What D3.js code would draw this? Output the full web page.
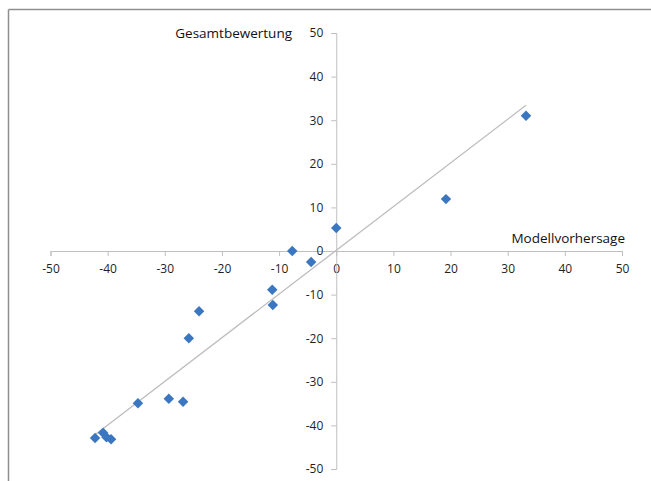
<!DOCTYPE html>
<meta charset="utf-8">
<style>
body { margin: 0; background: #fff; }
svg { display: block; }
.tick text { font: 12px "Open Sans", sans-serif; fill: #1f1f1f; }
.tick line, .domain { stroke: #bfbfbf; }
.axis-title { font: 13.5px "Open Sans", sans-serif; fill: #111; }
</style>
<svg width="651" height="481"></svg>
<script src="https://d3js.org/d3.v7.min.js"></script>
<script>
// Modellvorhersage (x) vs Gesamtbewertung (y)
var modell = [33.2, 19.2, 0, -4.4, -7.7, -11.2, -11.1, -24.0, -25.8, -34.7, -29.3, -26.8, -42.2, -40.8, -40.2, -39.4];
var gesamt = [31.0, 11.9, 5.3, -2.5, 0, -8.9, -12.4, -13.8, -20.0, -34.9, -33.9, -34.6, -42.9, -41.7, -42.7, -43.2];
var ticks = [-50, -40, -30, -20, -10, 0, 10, 20, 30, 40, 50];

var svg = d3.select("svg");

// outer frame (top and left edges only)
svg.append("line").attr("x1", 8.5).attr("x2", 651).attr("y1", 9.5).attr("y2", 9.5)
  .attr("stroke", "#8f8f8f").attr("stroke-width", 1.5);
svg.append("line").attr("x1", 8.5).attr("x2", 8.5).attr("y1", 9.5).attr("y2", 481)
  .attr("stroke", "#8f8f8f").attr("stroke-width", 1.5);

var x = d3.scaleLinear().domain([-50, 50]).range([50.5, 622]);
var y = d3.scaleLinear().domain([-50, 50]).range([469, 33]);

svg.append("g")
  .attr("transform", "translate(0," + y(0) + ")")
  .call(d3.axisBottom(x).tickValues(ticks).tickSize(5).tickPadding(8).tickSizeOuter(5));
svg.append("g")
  .attr("transform", "translate(" + x(0) + ",0)")
  .call(d3.axisLeft(y).tickValues(ticks).tickSize(5).tickPadding(8).tickSizeOuter(5));

svg.selectAll(".tick text").text(function(d) { return d; });

// linear trend line over data range
var mx = d3.mean(modell), my = d3.mean(gesamt);
var sxy = d3.sum(modell, function(v, i) { return (v - mx) * (gesamt[i] - my); });
var sxx = d3.sum(modell, function(v) { return (v - mx) * (v - mx); });
var slope = sxy / sxx, icpt = my - slope * mx;
var xr = d3.extent(modell);
svg.append("line")
  .attr("x1", x(xr[0])).attr("y1", y(slope * xr[0] + icpt))
  .attr("x2", x(xr[1])).attr("y2", y(slope * xr[1] + icpt))
  .attr("stroke", "#bdbdbd").attr("stroke-width", 1.3);

var diamond = d3.symbol().type(d3.symbolDiamond2).size(70);
svg.selectAll(".pt").data(modell).enter()
  .append("path")
  .attr("class", "pt")
  .attr("d", diamond)
  .attr("transform", function(d, i) { return "translate(" + x(d) + "," + y(gesamt[i]) + ")"; })
  .attr("fill", "#3b77c0");

svg.append("text").attr("class", "axis-title")
  .attr("x", 292).attr("y", 38).attr("text-anchor", "end").text("Gesamtbewertung");
svg.append("text").attr("class", "axis-title")
  .attr("x", 625).attr("y", 243).attr("text-anchor", "end").text("Modellvorhersage");
</script>
